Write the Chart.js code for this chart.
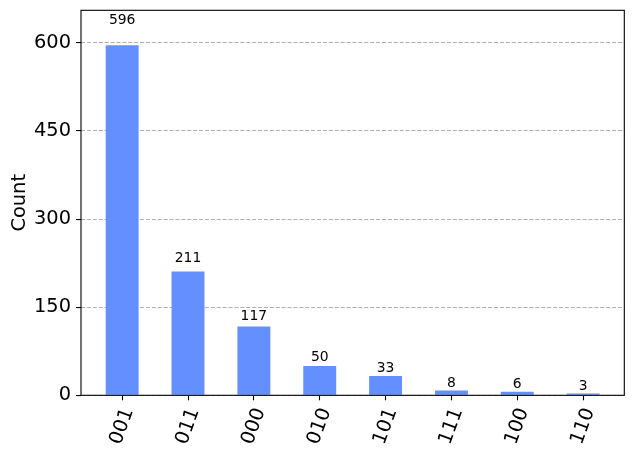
<!DOCTYPE html>
<html>
<head>
<meta charset="utf-8">
<script src="https://cdn.jsdelivr.net/npm/chart.js@4"></script>
<style>
  html, body { margin: 0; padding: 0; background: #fff; }
  #wrap { width: 633px; height: 456px; position: relative; }
</style>
</head>
<body>
<div id="wrap"><canvas id="c"></canvas></div>
<script>
const categories = ['001', '011', '000', '010', '101', '111', '100', '110'];
const counts = [596, 211, 117, 50, 33, 8, 6, 3];
const yTicks = [0, 150, 300, 450, 600];
const yTitle = 'Count';

const FONT = '"DejaVu Sans", sans-serif';
const BAR_COLOR = '#648fff';
const yMax = Math.max(...counts) * 1.1;

const overlay = {
  id: 'overlay',
  afterDraw(chart) {
    const ctx = chart.ctx;
    const xs = chart.scales.x, ys = chart.scales.y;
    const area = chart.chartArea;
    ctx.save();
    // value labels
    ctx.fillStyle = '#000';
    ctx.font = '13.9px ' + FONT;
    ctx.textAlign = 'center';
    ctx.textBaseline = 'bottom';
    counts.forEach((v, i) => {
      ctx.fillText(String(v), xs.getPixelForValue(i), ys.getPixelForValue(v * 1.05));
    });
    // x tick labels rotated 70deg, centred like matplotlib
    ctx.font = '19.4px ' + FONT;
    const ang = 70 * Math.PI / 180;
    const top = area.bottom + 4.9 + 4.9;
    categories.forEach((lab, i) => {
      const w = ctx.measureText(lab).width;
      const h = 19.4 * 1.16;
      const bh = w * Math.sin(ang) + h * Math.cos(ang);
      const cx = xs.getPixelForValue(i);
      const cy = top + bh / 2;
      ctx.save();
      ctx.translate(cx, cy);
      ctx.rotate(-ang);
      ctx.textAlign = 'center';
      ctx.textBaseline = 'middle';
      ctx.fillText(lab, 0, 0);
      ctx.restore();
    });
    // y title
    ctx.save();
    ctx.translate(25.3, (area.top + area.bottom) / 2);
    ctx.rotate(-Math.PI / 2);
    ctx.textAlign = 'center';
    ctx.textBaseline = 'alphabetic';
    ctx.fillText(yTitle, 0, 0);
    ctx.restore();
    // frame
    ctx.strokeStyle = '#000';
    ctx.lineWidth = 1.1;
    ctx.strokeRect(area.left, area.top, area.right - area.left, area.bottom - area.top);
    ctx.restore();
  }
};

new Chart(document.getElementById('c'), {
  type: 'bar',
  data: {
    datasets: [{
      data: counts.map((v, i) => ({ x: i, y: v })),
      backgroundColor: BAR_COLOR,
      borderWidth: 0,
      categoryPercentage: 1.0,
      barPercentage: 0.5
    }]
  },
  options: {
    responsive: true,
    maintainAspectRatio: false,
    animation: false,
    layout: { padding: { left: 0, right: 8.7, top: 10.3, bottom: 0 } },
    plugins: { legend: { display: false }, tooltip: { enabled: false } },
    scales: {
      x: {
        type: 'linear',
        offset: false,
        min: -0.625,
        max: 7.625,
        afterBuildTicks(axis) { axis.ticks = categories.map((c, i) => ({ value: i })); },
        afterFit(axis) { axis.height = 60.7; axis.paddingLeft = 0; axis.paddingRight = 0; },
        ticks: { display: false },
        grid: { offset: false, drawOnChartArea: false, drawTicks: true, tickLength: 5, tickColor: '#000', tickWidth: 1.1 },
        border: { display: false }
      },
      y: {
        min: 0,
        max: yMax,
        afterBuildTicks(axis) { axis.ticks = yTicks.map(v => ({ value: v })); },
        afterFit(axis) { axis.width = 81; axis.paddingTop = 0; axis.paddingBottom = 0; },
        ticks: { color: '#000', padding: 5, font: { family: FONT, size: 19.4, lineHeight: 1.0 } },
        grid: { color: '#b0b0b0', lineWidth: 1.1, tickLength: 5, tickColor: '#000', tickWidth: 1.1, tickBorderDash: [] },
        border: { display: false, dash: [4.1, 1.8] }
      }
    }
  },
  plugins: [overlay]
});
</script>
</body>
</html>
